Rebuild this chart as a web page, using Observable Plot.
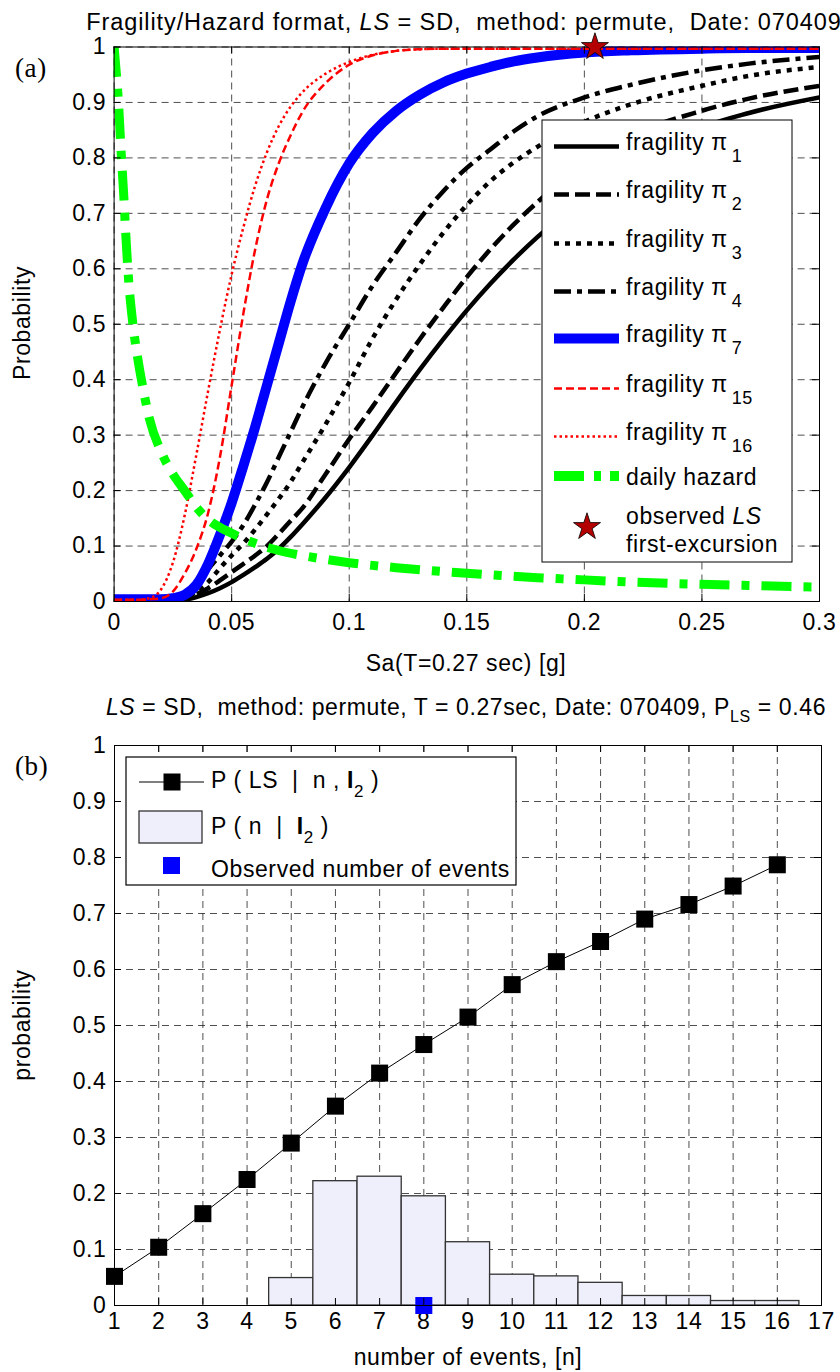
<!DOCTYPE html>
<html><head><meta charset="utf-8">
<script src="https://cdn.jsdelivr.net/npm/d3@7"></script>
<script src="https://cdn.jsdelivr.net/npm/@observablehq/plot@0.6"></script>
<style>
body{margin:0;background:#fff;}
#page{position:relative;width:840px;height:1372px;background:#fff;}
#page svg{position:absolute;left:0;}
#page svg text{letter-spacing:0.6px;}
</style></head><body><div id="page"></div>
<script>
// ---------------- Panel (a) data ----------------
const saGrid = [0,0.01,0.015,0.02,0.025,0.03,0.035,0.04,0.045,0.05,0.055,0.06,0.065,0.07,0.075,0.08,0.09,0.1,0.11,0.12,0.13,0.14,0.15,0.16,0.17,0.18,0.2,0.22,0.25,0.27,0.3];
const frag1  = [0,0,0,0,0,0.003,0.008,0.015,0.024,0.035,0.048,0.062,0.077,0.095,0.116,0.139,0.188,0.242,0.30,0.36,0.418,0.473,0.525,0.573,0.617,0.657,0.727,0.785,0.855,0.881,0.909];
const frag2  = [0,0,0,0,0,0.005,0.013,0.024,0.038,0.053,0.068,0.083,0.1,0.122,0.145,0.168,0.23,0.293,0.352,0.413,0.473,0.53,0.585,0.635,0.68,0.72,0.79,0.84,0.885,0.907,0.93];
const frag3  = [0,0,0,0,0,0.006,0.018,0.035,0.06,0.083,0.105,0.13,0.157,0.185,0.215,0.25,0.32,0.395,0.475,0.545,0.608,0.665,0.715,0.758,0.792,0.82,0.865,0.897,0.93,0.948,0.964];
const frag4  = [0,0,0,0,0,0.01,0.03,0.058,0.083,0.108,0.138,0.175,0.215,0.26,0.305,0.35,0.43,0.5,0.57,0.63,0.69,0.74,0.782,0.815,0.848,0.875,0.909,0.932,0.958,0.97,0.982];
const frag7  = [0.004,0.004,0.004,0.004,0.006,0.012,0.03,0.068,0.12,0.178,0.245,0.315,0.39,0.465,0.54,0.608,0.71,0.79,0.845,0.885,0.914,0.936,0.952,0.964,0.974,0.981,0.99,0.994,0.997,0.998,0.998];
const frag15 = [0.003,0.003,0.004,0.006,0.018,0.05,0.095,0.16,0.26,0.39,0.52,0.635,0.725,0.79,0.84,0.882,0.935,0.968,0.985,0.993,0.996,0.997,0.997,0.997,0.997,0.997,0.997,0.997,0.997,0.997,0.997];
const frag16 = [0.003,0.003,0.006,0.022,0.07,0.155,0.265,0.38,0.49,0.59,0.675,0.75,0.81,0.857,0.892,0.918,0.952,0.973,0.986,0.993,0.996,0.997,0.997,0.997,0.997,0.997,0.997,0.997,0.997,0.997,0.997];
const hazardSa = [0,0.001,0.002,0.003,0.004,0.005,0.006,0.008,0.01,0.0125,0.015,0.02,0.025,0.03,0.035,0.04,0.05,0.06,0.07,0.08,0.09,0.1,0.12,0.14,0.16,0.18,0.2,0.22,0.25,0.28,0.3];
const hazardP  = [1.0,0.95,0.89,0.81,0.74,0.66,0.59,0.50,0.44,0.38,0.33,0.27,0.23,0.20,0.17,0.148,0.123,0.105,0.092,0.083,0.076,0.07,0.061,0.054,0.048,0.043,0.039,0.035,0.031,0.028,0.026];
const observedSa = [0.2045];
const observedP  = [1];
const xTicksA = [0,0.05,0.1,0.15,0.2,0.25,0.3];
const xTickLabelsA = ["0","0.05","0.1","0.15","0.2","0.25","0.3"];
const yTicks = [0,0.1,0.2,0.3,0.4,0.5,0.6,0.7,0.8,0.9,1];
const yTickLabels = ["0","0.1","0.2","0.3","0.4","0.5","0.6","0.7","0.8","0.9","1"];
const fragNames = ["1","2","3","4","7","15","16"];

// ---------------- Panel (b) data ----------------
const nEvents   = [1,2,3,4,5,6,7,8,9,10,11,12,13,14,15,16];
const pLSgivenN = [0.052,0.104,0.164,0.225,0.29,0.356,0.415,0.466,0.515,0.573,0.614,0.65,0.69,0.716,0.749,0.787];
const nBins     = [5,6,7,8,9,10,11,12,13,14,15,16];
const pNgivenI  = [0.049,0.222,0.230,0.195,0.113,0.055,0.052,0.0405,0.017,0.017,0.008,0.008];
const observedN = [8];
const observedNP = [0];
const xTicksB = [1,2,3,4,5,6,7,8,9,10,11,12,13,14,15,16,17];
const xTickLabelsB = ["1","2","3","4","5","6","7","8","9","10","11","12","13","14","15","16","17"];

// ---------------- styling ----------------
const FONT = "'Liberation Sans', Arial, Helvetica, sans-serif";
const FS = 23;
const gridStyle = {stroke: "#222", strokeWidth: 0.8, strokeDasharray: "7,5"};
const fragStyles = [
  {stroke: "#000", width: 4.5},
  {stroke: "#000", width: 4.5, dash: "15,6"},
  {stroke: "#000", width: 4.5, dash: "5,6"},
  {stroke: "#000", width: 4.5, dash: "17,6,5,6"},
  {stroke: "#0000ff", width: 10},
  {stroke: "#ff0000", width: 2.5, dash: "8,4"},
  {stroke: "#ff0000", width: 2.5, dash: "2.5,3"}
];
const fragValues = [frag1, frag2, frag3, frag4, frag7, frag15, frag16];
const hazardStyle = {stroke: "#00ff00", width: 9, dash: "30,12,8,12"};
const starColor = "#b40000";

const page = document.getElementById("page");
const tickPx = 7;

// ---------------- Panel (a) ----------------
const A = {w: 840, h: 680, ml: 113.6, mr: 21, mt: 46.5, mb: 79};
const aW = A.w - A.ml - A.mr, aH = A.h - A.mt - A.mb;
const aTx = tickPx / aW * 0.3, aTy = tickPx / aH;
const labA = new Map(xTicksA.map((d, i) => [d, xTickLabelsA[i]]));
const labY = new Map(yTicks.map((d, i) => [d, yTickLabels[i]]));

function lineOpts(x, y, st) {
  const o = {x, y, stroke: st.stroke, strokeWidth: st.width, curve: "monotone-x", clip: true,
             strokeLinecap: "butt", strokeLinejoin: "round"};
  if (st.dash) o.strokeDasharray = st.dash;
  return o;
}

const plotA = Plot.plot({
  width: A.w, height: A.h,
  marginLeft: A.ml, marginRight: A.mr, marginTop: A.mt, marginBottom: A.mb,
  style: {fontFamily: FONT, fontSize: FS + "px", color: "#000", background: "transparent", overflow: "visible"},
  x: {domain: [0, 0.3], ticks: xTicksA, tickFormat: d => labA.get(d), tickSize: 0, tickPadding: 12, label: null},
  y: {domain: [0, 1], ticks: yTicks, tickFormat: d => labY.get(d), tickSize: 0, tickPadding: 8, label: null},
  marks: [
    Plot.ruleX(xTicksA, {x: d => d, ...gridStyle}),
    Plot.ruleY(yTicks, {y: d => d, ...gridStyle}),
    ...fragValues.map((v, i) => Plot.line(saGrid, lineOpts(saGrid, v, fragStyles[i]))),
    Plot.line(hazardSa, lineOpts(hazardSa, hazardP, hazardStyle)),
    Plot.frame({stroke: "#000", strokeWidth: 1}),
    Plot.ruleX(xTicksA, {x: d => d, y1: 0, y2: aTy, stroke: "#000", strokeWidth: 1}),
    Plot.ruleX(xTicksA, {x: d => d, y1: 1 - aTy, y2: 1, stroke: "#000", strokeWidth: 1}),
    Plot.ruleY(yTicks, {y: d => d, x1: 0, x2: aTx, stroke: "#000", strokeWidth: 1}),
    Plot.ruleY(yTicks, {y: d => d, x1: 0.3 - aTx, x2: 0.3, stroke: "#000", strokeWidth: 1}),
    Plot.dot(observedSa, {x: observedSa, y: observedP, symbol: "star", r: 8.5, fill: starColor, stroke: "#000", strokeWidth: 0.8})
  ]
});
plotA.style.top = "0px";
page.appendChild(plotA);

// ---------------- Panel (b) ----------------
const B = {w: 840, h: 692, ml: 114, mr: 19, mt: 65, mb: 67};
const bW = B.w - B.ml - B.mr, bH = B.h - B.mt - B.mb;
const bTx = tickPx / bW * 16, bTy = tickPx / bH;
const labB = new Map(xTicksB.map((d, i) => [d, xTickLabelsB[i]]));

const plotB = Plot.plot({
  width: B.w, height: B.h,
  marginLeft: B.ml, marginRight: B.mr, marginTop: B.mt, marginBottom: B.mb,
  style: {fontFamily: FONT, fontSize: FS + "px", color: "#000", background: "transparent", overflow: "visible"},
  x: {domain: [1, 17], ticks: xTicksB, tickFormat: d => labB.get(d), tickSize: 0, tickPadding: 7, label: null},
  y: {domain: [0, 1], ticks: yTicks, tickFormat: d => labY.get(d), tickSize: 0, tickPadding: 8, label: null},
  marks: [
    Plot.ruleX(xTicksB, {x: d => d, ...gridStyle}),
    Plot.ruleY(yTicks, {y: d => d, ...gridStyle}),
    Plot.rectY(nBins, {x1: d => d - 0.5, x2: d => d + 0.5, y1: 0, y2: pNgivenI, fill: "#efeffb", stroke: "#333", strokeWidth: 1.3}),
    Plot.line(nEvents, {x: nEvents, y: pLSgivenN, stroke: "#000", strokeWidth: 1}),
    Plot.dot(nEvents, {x: nEvents, y: pLSgivenN, symbol: "square", r: 9.6, fill: "#000"}),
    Plot.dot(observedN, {x: observedN, y: observedNP, symbol: "square", r: 9.6, fill: "#0000ff"}),
    Plot.frame({stroke: "#000", strokeWidth: 1}),
    Plot.ruleX(xTicksB, {x: d => d, y1: 0, y2: bTy, stroke: "#000", strokeWidth: 1}),
    Plot.ruleX(xTicksB, {x: d => d, y1: 1 - bTy, y2: 1, stroke: "#000", strokeWidth: 1}),
    Plot.ruleY(yTicks, {y: d => d, x1: 1, x2: 1 + bTx, stroke: "#000", strokeWidth: 1}),
    Plot.ruleY(yTicks, {y: d => d, x1: 17 - bTx, x2: 17, stroke: "#000", strokeWidth: 1})
  ]
});
plotB.style.top = "680px";
page.appendChild(plotB);

// ---------------- Overlay: titles, labels, legends ----------------
const ov = d3.select(page).append("svg")
  .attr("width", 840).attr("height", 1372)
  .style("top", "0px").style("overflow", "visible")
  .style("font-family", FONT).style("font-size", FS + "px");

function rich(x, y, parts, anchor = "start", opts = {}) {
  const t = ov.append("text").attr("x", x).attr("y", y).attr("text-anchor", anchor)
    .style("white-space", "pre").attr("fill", "#000");
  if (opts.transform) t.attr("transform", opts.transform).attr("x", 0).attr("y", 0);
  if (opts.family) t.style("font-family", opts.family);
  if (opts.size) t.style("font-size", opts.size + "px");
  if (opts.spacing) t.style("letter-spacing", opts.spacing);
  let off = 0;
  for (const p of parts) {
    const s = t.append("tspan").text(p.t);
    const target = p.sub || 0;
    if (target !== off) { s.attr("dy", target - off); off = target; }
    if (p.dx) s.attr("dx", p.dx);
    if (p.italic) s.style("font-style", "italic");
    if (p.bold) s.style("font-weight", "bold");
    if (p.sub) s.style("font-size", (p.size || 17) + "px");
  }
  return t;
}

// titles
rich(464, 29.5, [{t: "Fragility/Hazard format, "}, {t: "LS", italic: true}, {t: " = SD,  method: permute,  Date: 070409"}], "middle", {size: 23.5, spacing: "0.9px"});
rich(466, 715, [{t: "LS", italic: true}, {t: " = SD,  method: permute, T = 0.27sec, Date: 070409, P"}, {t: "LS", sub: 7, size: 16}, {t: " = 0.46"}], "middle");
// axis labels
rich(466, 671, [{t: "Sa(T=0.27 sec) [g]"}], "middle");
rich(468, 1365, [{t: "number of events, [n]"}], "middle");
rich(0, 0, [{t: "Probability"}], "middle", {transform: "translate(30,323) rotate(-90)"});
rich(0, 0, [{t: "probability"}], "middle", {transform: "translate(30,1025) rotate(-90)"});
// panel letters
rich(15, 77, [{t: "(a)"}], "start", {family: "'Liberation Serif', 'Times New Roman', serif", size: 27});
rich(15, 775, [{t: "(b)"}], "start", {family: "'Liberation Serif', 'Times New Roman', serif", size: 27});

// legend (a)
ov.append("rect").attr("x", 542).attr("y", 120).attr("width", 250).attr("height", 442)
  .attr("fill", "#fff").attr("stroke", "#000").attr("stroke-width", 1);
const legBase = [150, 198, 247, 295, 342, 392, 440];
fragStyles.forEach((st, i) => {
  const ly = legBase[i] - 3.5;
  const ln = ov.append("line").attr("x1", 554).attr("x2", 619).attr("y1", ly).attr("y2", ly)
    .attr("stroke", st.stroke).attr("stroke-width", st.width);
  if (st.dash) ln.attr("stroke-dasharray", st.dash);
  rich(626, legBase[i], [{t: "fragility π"}, {t: fragNames[i], sub: 12, size: 18, dx: 4}]);
});
ov.append("line").attr("x1", 554).attr("x2", 619).attr("y1", 476).attr("y2", 476)
  .attr("stroke", hazardStyle.stroke).attr("stroke-width", 10).attr("stroke-dasharray", "30,10,7,9");
rich(626, 485, [{t: "daily hazard"}]);
ov.append("path").attr("d", d3.symbol(d3.symbolStar, 227)())
  .attr("transform", "translate(587,527)").attr("fill", starColor).attr("stroke", "#000").attr("stroke-width", 0.8);
rich(626, 524, [{t: "observed "}, {t: "LS", italic: true}]);
rich(626, 552, [{t: "first-excursion"}]);

// legend (b)
ov.append("rect").attr("x", 126).attr("y", 757).attr("width", 390).attr("height", 128)
  .attr("fill", "#fff").attr("stroke", "#000").attr("stroke-width", 1.2);
ov.append("line").attr("x1", 139).attr("x2", 204).attr("y1", 782).attr("y2", 782)
  .attr("stroke", "#000").attr("stroke-width", 1);
ov.append("rect").attr("x", 163.5).attr("y", 773.5).attr("width", 17).attr("height", 17).attr("fill", "#000");
rich(211, 788, [{t: "P ( LS  |  n , "}, {t: "I", bold: true}, {t: "2", sub: 9, size: 17}, {t: " )"}]);
ov.append("rect").attr("x", 139).attr("y", 811).attr("width", 63).attr("height", 32)
  .attr("fill", "#efeffb").attr("stroke", "#333").attr("stroke-width", 1.3);
rich(211, 834, [{t: "P ( n  |  "}, {t: "I", bold: true}, {t: "2", sub: 9, size: 17}, {t: " )"}]);
ov.append("rect").attr("x", 163).attr("y", 857).attr("width", 17).attr("height", 17).attr("fill", "#0000ff");
rich(211, 877, [{t: "Observed number of events"}]);
</script></body></html>
